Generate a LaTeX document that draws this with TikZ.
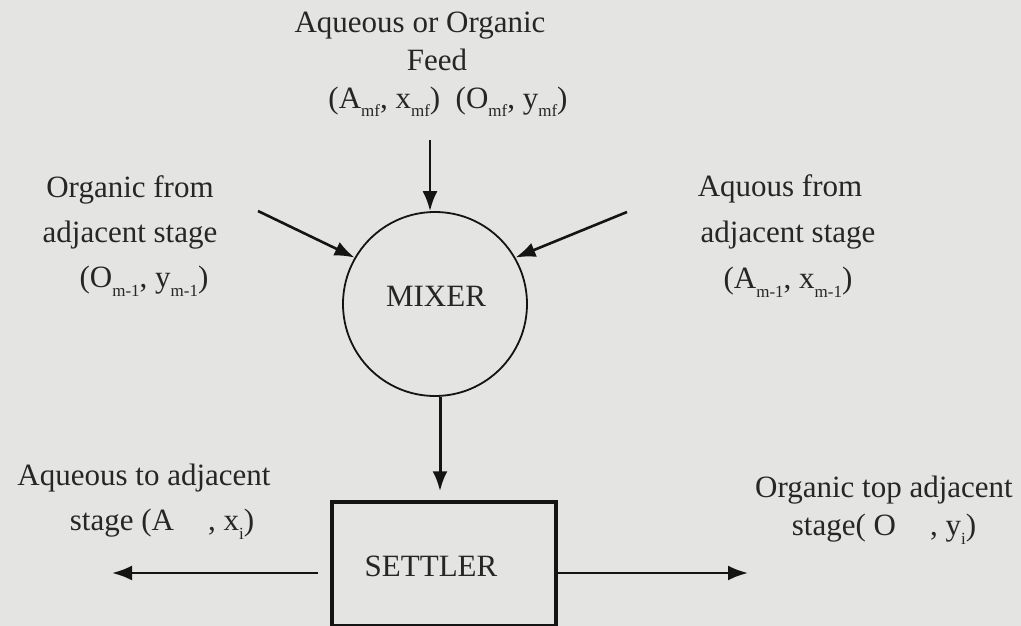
\documentclass[tikz,border=0pt]{standalone}
\usepackage{fontspec}
\setmainfont{Liberation Serif}
\usetikzlibrary{arrows.meta}
\definecolor{bgc}{RGB}{228,228,226}
\definecolor{ink}{RGB}{20,20,20}
\definecolor{txt}{RGB}{38,38,38}
\newcommand\lsub[1]{\raisebox{-9pt}{\fontsize{17}{17}\selectfont #1}}
\tikzset{
  flow/.style={draw=ink, line width=2.6pt, -{Latex[length=20pt,width=15pt]}},
  lbl/.style={text=txt, align=center, anchor=base, inner sep=0pt},
  big/.style={font=\fontsize{31}{#1}\selectfont},
}
\begin{document}
\begin{tikzpicture}[x=1pt,y=-1pt]
\fill[bgc] (0,0) rectangle (1021,626);
\useasboundingbox (0,0) rectangle (1021,626);

\node[circle, draw=ink, line width=1.8pt, minimum size=184pt, inner sep=0pt] (mixer) at (435,304) {};
\node[text=txt, font=\fontsize{31}{34}\selectfont, anchor=base] (mixlabel) at (436,306) {MIXER};

\node[draw=ink, line width=3.5pt, minimum width=224pt, minimum height=124pt, inner sep=0pt] (settler) at (444,564) {};
\node[text=txt, font=\fontsize{31}{34}\selectfont, anchor=base] (setlabel) at (431,576) {SETTLER};

\node[lbl, big=38] (feed) at (437,108) {Aqueous or Organic\hspace*{34pt}\\Feed\\\hspace*{22pt}(A\lsub{mf}, x\lsub{mf})\ \ (O\lsub{mf}, y\lsub{mf})};
\node[lbl, big=45] (orgin) at (130,287) {Organic from\\adjacent stage\\\hspace*{28pt}(O\lsub{m-1}, y\lsub{m-1})};
\node[lbl, big=46] (aqin) at (788,288) {Aquous from\hspace*{16pt}\\adjacent stage\\(A\lsub{m-1}, x\lsub{m-1})};
\node[lbl, big=45] (aqout) at (152,530) {Aqueous to adjacent\hspace*{16pt}\\\hspace*{20pt}stage (A\hspace{1.1em}, x\lsub{i})};
\node[lbl, big=38] (orgout) at (884,535) {Organic top adjacent\\stage( O\hspace{1.1em}, y\lsub{i})};

\coordinate (feedin) at (430,140);
\coordinate (orgsrc) at (258,211);
\coordinate (aqsrc) at (627,212);
\coordinate (outL) at (112,573);
\coordinate (outR) at (748,573);

\draw[flow] (feedin) -- (feedin |- mixer.north);
\draw[flow] (orgsrc) -- (mixer.150);
\draw[flow] (aqsrc) -- (mixer.30);
\draw[flow, line width=3pt, shorten >=9pt] ([xshift=5pt]mixer.south) -- ([xshift=5pt]mixer.south |- settler.north);
\draw[flow, shorten <=12pt] (settler.west |- outL) -- (outL);
\draw[flow] (settler.east |- outR) -- (outR);
\end{tikzpicture}
\end{document}
